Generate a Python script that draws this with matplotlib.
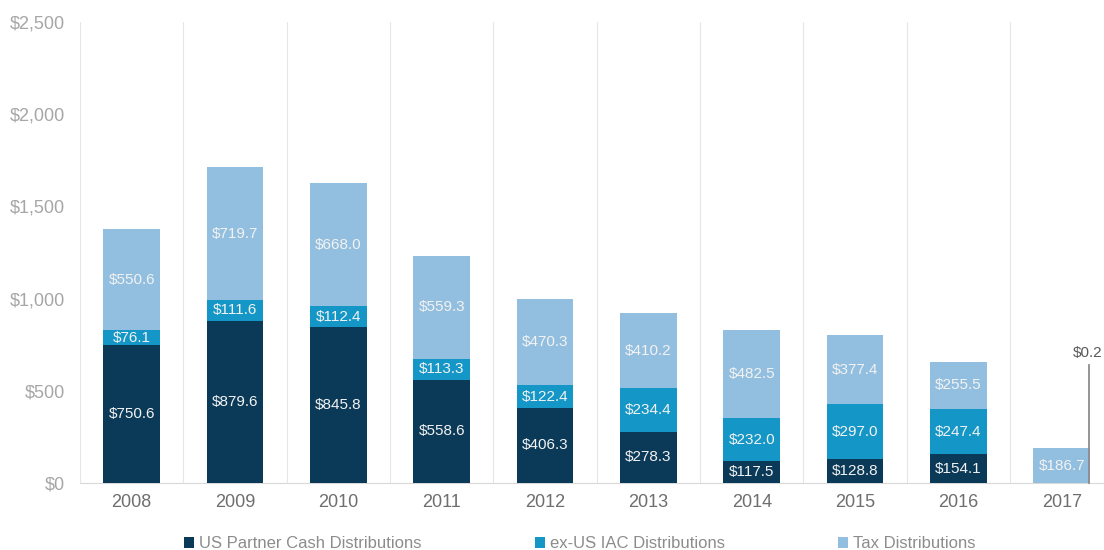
import matplotlib.pyplot as plt
import numpy as np

plt.rcParams['font.family'] = ['Liberation Sans', 'DejaVu Sans']

years = ["2008", "2009", "2010", "2011", "2012", "2013", "2014", "2015", "2016", "2017"]
us_partner = [750.6, 879.6, 845.8, 558.6, 406.3, 278.3, 117.5, 128.8, 154.1, 0.0]
ex_us_iac = [76.1, 111.6, 112.4, 113.3, 122.4, 234.4, 232.0, 297.0, 247.4, 0.2]
tax = [550.6, 719.7, 668.0, 559.3, 470.3, 410.2, 482.5, 377.4, 255.5, 186.7]

series_names = ["US Partner Cash Distributions", "ex-US IAC Distributions", "Tax Distributions"]
colors = ["#0b3a58", "#1497c6", "#92bfdf"]

fig = plt.figure(figsize=(11.04, 5.5), dpi=100)
ax = fig.add_axes([0.0725, 0.122, 0.936, 0.838])

x = np.arange(len(years))
width = 0.55
bottom = np.zeros(len(years))
handles = []
for vals, name, col in zip([us_partner, ex_us_iac, tax], series_names, colors):
    vals = np.array(vals)
    b = ax.bar(x, vals, width, bottom=bottom, color=col, label=name, zorder=3)
    handles.append(b)
    for xi, v, bt in zip(x, vals, bottom):
        if v >= 50:
            ax.text(xi, bt + v / 2, f"${v:,.1f}", ha="center", va="center",
                    color="#f2f2f2", fontsize=11, zorder=4)
    bottom = bottom + vals

# tiny 2017 segment gets a callout line
i17 = len(years) - 1
ax.plot([i17 + 0.26, i17 + 0.26], [0, 640], color="#8c8c8c", lw=1.3, zorder=5,
        clip_on=False)
ax.text(i17 + 0.39, 705, f"${ex_us_iac[i17]:.1f}", ha="right", va="center",
        fontsize=11, color="#595959")

ax.set_xlim(-0.5, len(years) - 0.5)
ax.set_ylim(0, 2500)
ax.set_yticks(np.arange(0, 2501, 500))
ax.set_yticklabels([f"${v:,.0f}" for v in np.arange(0, 2501, 500)])
ax.set_xticks(x)
ax.set_xticklabels(years)
ax.tick_params(axis="both", length=0, labelsize=13)
ax.tick_params(axis="x", pad=8, colors="#6e6e6e")
ax.tick_params(axis="y", pad=11, colors="#a6a6a6")

for xb in np.arange(-0.5, len(years) + 0.5, 1):
    ax.axvline(xb, color="#e6e6e6", lw=0.8, zorder=1)

for s in ["top", "right", "left"]:
    ax.spines[s].set_visible(False)
ax.spines["bottom"].set_color("#d9d9d9")

fig.legend(handles=handles, labels=series_names, loc="lower center",
           bbox_to_anchor=(0.525, -0.03), ncol=3, frameon=False, fontsize=12,
           handlelength=0.6, handleheight=0.6, handletextpad=0.3, columnspacing=6.8,
           labelcolor="#8c8c8c")

fig.savefig("out.png", dpi=100)
